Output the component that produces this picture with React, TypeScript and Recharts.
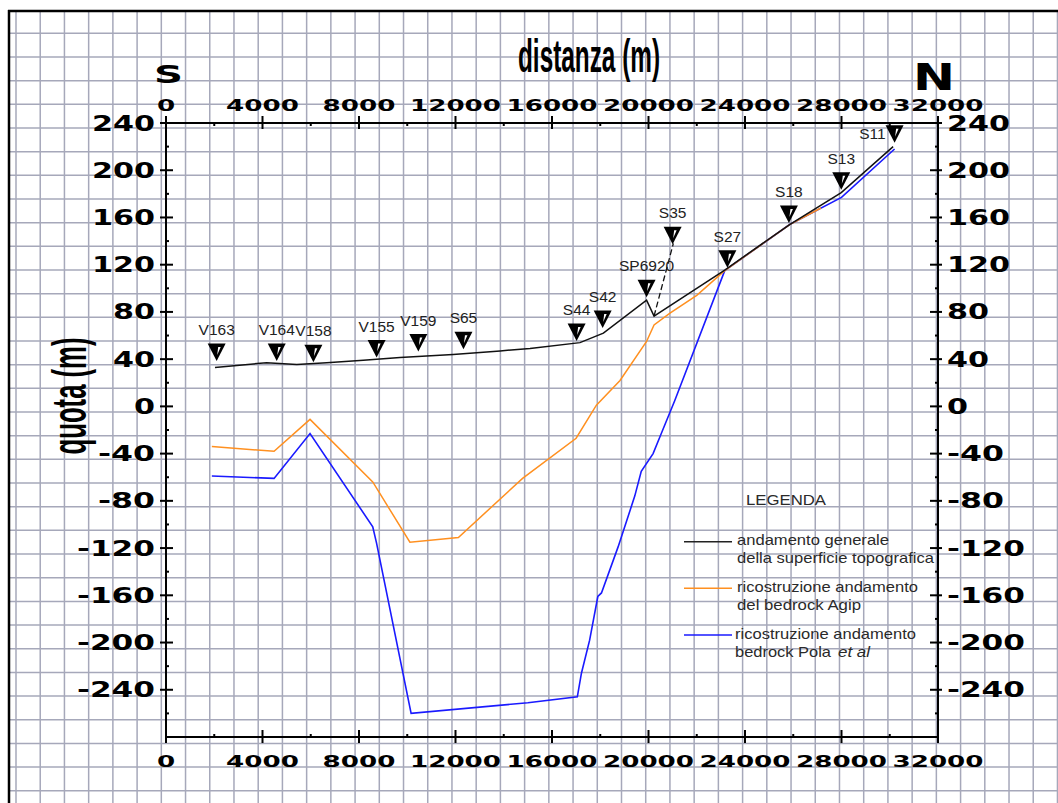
import React from "react";
import { ComposedChart, Line, Scatter, XAxis, YAxis } from "recharts";

// distanza (m) — major ticks every 4000, minor every 2000
const xTicks = [
  0, 2000, 4000, 6000, 8000, 10000, 12000, 14000, 16000, 18000, 20000, 22000,
  24000, 26000, 28000, 30000, 32000,
];
// quota (m) — major every 40, minor every 20
const yTicks = [
  -280, -260, -240, -220, -200, -180, -160, -140, -120, -100, -80, -60, -40,
  -20, 0, 20, 40, 60, 80, 100, 120, 140, 160, 180, 200, 220, 240,
];

// andamento generale della superficie topografica
const topografia = [
  { x: 2030, y: 33 },
  { x: 4170, y: 37 },
  { x: 5420, y: 35.5 },
  { x: 6660, y: 37 },
  { x: 8180, y: 39 },
  { x: 9700, y: 41.5 },
  { x: 11900, y: 44 },
  { x: 13850, y: 47 },
  { x: 15090, y: 49 },
  { x: 17160, y: 54 },
  { x: 18130, y: 62 },
  { x: 19920, y: 90 },
  { x: 20230, y: 76.5 },
  { x: 23160, y: 115.5 },
  { x: 25850, y: 154 },
  { x: 27990, y: 181 },
  { x: 30140, y: 220 },
];

// raccordo tratteggiato verso S35
const raccordoS35 = [
  { x: 20230, y: 76.5 },
  { x: 21030, y: 138 },
];

// ricostruzione andamento del bedrock Agip
const bedrockAgip = [
  { x: 1900, y: -34 },
  { x: 4480, y: -38 },
  { x: 5970, y: -11 },
  { x: 8570, y: -64 },
  { x: 10110, y: -115 },
  { x: 12120, y: -111 },
  { x: 14780, y: -61 },
  { x: 17000, y: -27 },
  { x: 17840, y: 1 },
  { x: 18820, y: 22 },
  { x: 19920, y: 55 },
  { x: 20230, y: 69 },
  { x: 20890, y: 79 },
  { x: 22000, y: 94 },
  { x: 23160, y: 115 },
  { x: 25850, y: 154 },
  { x: 27150, y: 168 },
];

// ricostruzione andamento bedrock Pola et al
const bedrockPola = [
  { x: 1900, y: -59 },
  { x: 4480, y: -61 },
  { x: 5970, y: -23 },
  { x: 8570, y: -102 },
  { x: 8730, y: -116 },
  { x: 10160, y: -260 },
  { x: 15000, y: -251 },
  { x: 17050, y: -246 },
  { x: 17220, y: -226 },
  { x: 17560, y: -198 },
  { x: 17900, y: -161 },
  { x: 18050, y: -158 },
  { x: 18740, y: -119 },
  { x: 19430, y: -76 },
  { x: 19700, y: -55 },
  { x: 20190, y: -40 },
  { x: 20530, y: -23 },
  { x: 21090, y: 5 },
  { x: 23160, y: 115 },
  { x: 25850, y: 154 },
  { x: 28000, y: 177 },
  { x: 30200, y: 218 },
];

// sondaggi / pozzi
const pozzi = [
  { x: 2100, y: 46, name: "V163" },
  { x: 4590, y: 46, name: "V164" },
  { x: 6110, y: 45, name: "V158" },
  { x: 8730, y: 49, name: "V155" },
  { x: 10460, y: 54, name: "V159" },
  { x: 12330, y: 56, name: "S65" },
  { x: 17020, y: 63, name: "S44" },
  { x: 18100, y: 74, name: "S42" },
  { x: 19920, y: 100, name: "SP6920" },
  { x: 21000, y: 145, name: "S35" },
  { x: 23270, y: 125, name: "S27" },
  { x: 25820, y: 163, name: "S18" },
  { x: 27990, y: 191, name: "S13" },
  { x: 30200, y: 231, name: "S11" },
];

const W = 1058;
const H = 803;
const TICK_FONT = "'DejaVu Sans', Verdana, sans-serif";
const LABEL_FONT = "'Liberation Sans', Arial, sans-serif";

const labelWidth = (s: string, digit: number, minus: number) =>
  s.split("").reduce((a, c) => a + (c === "-" ? minus : digit), 0);

function makeXTick(side: "top" | "bottom") {
  return (props: any) => {
    const { x, y, payload } = props;
    const v = payload.value;
    const major = v % 4000 === 0;
    if (!major) {
      return side === "top" ? (
        <line x1={x} x2={x} y1={y} y2={y + 3} stroke="#000" strokeWidth={2} />
      ) : (
        <line x1={x} x2={x} y1={y - 3} y2={y} stroke="#000" strokeWidth={2} />
      );
    }
    const s = String(v);
    const cy = side === "top" ? y - 18 : y + 24;
    return (
      <g>
        <line x1={x} x2={x} y1={y - 7} y2={y + 6} stroke="#000" strokeWidth={2} />
        <text
          x={x}
          y={cy + 6}
          textAnchor="middle"
          fontFamily={TICK_FONT}
          fontWeight="bold"
          fontSize={16.5}
          fill="#000"
          textLength={labelWidth(s, 18.2, 12)}
          lengthAdjust="spacingAndGlyphs"
        >
          {s}
        </text>
      </g>
    );
  };
}

function makeYTick(side: "left" | "right") {
  return (props: any) => {
    const { x, y, payload } = props;
    const v = payload.value;
    const major = v % 40 === 0 && v !== -280;
    if (!major) {
      return side === "left" ? (
        <line x1={x} x2={x + 3} y1={y} y2={y} stroke="#000" strokeWidth={2} />
      ) : (
        <line x1={x - 3} x2={x} y1={y} y2={y} stroke="#000" strokeWidth={2} />
      );
    }
    const s = String(v);
    return (
      <g>
        {side === "left" ? (
          <line x1={x - 6} x2={x + 7} y1={y} y2={y} stroke="#000" strokeWidth={2} />
        ) : (
          <line x1={x - 8} x2={x + 4} y1={y} y2={y} stroke="#000" strokeWidth={2} />
        )}
        <text
          x={side === "left" ? x - 11 : x + 9}
          y={y + 7.5}
          textAnchor={side === "left" ? "end" : "start"}
          fontFamily={TICK_FONT}
          fontWeight="bold"
          fontSize={20.5}
          fill="#000"
          textLength={labelWidth(s, 21, 15)}
          lengthAdjust="spacingAndGlyphs"
        >
          {s}
        </text>
      </g>
    );
  };
}

const PozzoMarker = (props: any) => {
  const { cx, cy, payload } = props;
  if (cx == null || cy == null) return null;
  const leftLabel = payload.name === "S11";
  return (
    <g>
      <polygon
        points={`${cx - 9},${cy - 8.5} ${cx + 9},${cy - 8.5} ${cx},${cy + 9}`}
        fill="#000"
      />
      <polygon
        points={`${cx + 1.5},${cy - 5} ${cx + 4},${cy - 5} ${cx + 0.5},${cy + 3}`}
        fill="#fff"
      />
      <text
        x={leftLabel ? cx - 9 : cx}
        y={leftLabel ? cy + 5 : cy - 17}
        textAnchor={leftLabel ? "end" : "middle"}
        fontFamily={LABEL_FONT}
        fontSize={15.5}
        fill="#222"
      >
        {payload.name}
      </text>
    </g>
  );
};

function GraphPaper() {
  const vx: number[] = [];
  for (let i = 0; 16 + i * 24.22 < W; i++) vx.push(16 + i * 24.22);
  const hy: number[] = [];
  for (let j = 0; 33.3 + j * 23.67 < H; j++) hy.push(33.3 + j * 23.67);
  return (
    <svg width={W} height={H} style={{ position: "absolute", left: 0, top: 0 }}>
      <rect x={0} y={0} width={W} height={H} fill="#fff" />
      {vx.map((x, i) => (
        <line
          key={"v" + i}
          x1={x}
          x2={x}
          y1={11}
          y2={H}
          stroke="#a6a8ba"
          strokeWidth={1.5}
        />
      ))}
      {hy.map((y, j) => (
        <line
          key={"h" + j}
          x1={9}
          x2={W}
          y1={y}
          y2={y}
          stroke="#a6a8ba"
          strokeWidth={1.5}
        />
      ))}
      <line x1={9} x2={9} y1={10} y2={H} stroke="#000" strokeWidth={2.5} />
      <line x1={8} x2={W} y1={11} y2={11} stroke="#000" strokeWidth={2.5} />
    </svg>
  );
}

function Annotations() {
  const legendText = {
    fontFamily: LABEL_FONT,
    fontSize: 14.5,
    fill: "#2a2a2a",
    lengthAdjust: "spacingAndGlyphs" as const,
  };
  return (
    <svg
      width={W}
      height={H}
      style={{ position: "absolute", left: 0, top: 0, pointerEvents: "none" }}
    >
      <text
        x={518}
        y={72}
        fontFamily="'Liberation Sans Narrow', 'Liberation Sans', Arial, sans-serif"
        fontWeight="bold"
        fontSize={46}
        textLength={142}
        lengthAdjust="spacingAndGlyphs"
        fill="#000"
      >
        distanza (m)
      </text>
      <text
        x={86}
        y={396}
        transform="rotate(-90, 86, 396)"
        textAnchor="middle"
        fontFamily="'Liberation Sans Narrow', 'Liberation Sans', Arial, sans-serif"
        fontWeight="bold"
        fontSize={48}
        textLength={117}
        lengthAdjust="spacingAndGlyphs"
        fill="#000"
      >
        quota (m)
      </text>
      <text
        x={154}
        y={83}
        fontFamily={TICK_FONT}
        fontWeight="bold"
        fontSize={25}
        textLength={29}
        lengthAdjust="spacingAndGlyphs"
        fill="#000"
      >
        S
      </text>
      <text
        x={913}
        y={90}
        fontFamily={TICK_FONT}
        fontWeight="bold"
        fontSize={37}
        textLength={42}
        lengthAdjust="spacingAndGlyphs"
        fill="#000"
      >
        N
      </text>

      <text x={746} y={505} textLength={80} {...legendText}>
        LEGENDA
      </text>
      <line x1={684} x2={732} y1={541.7} y2={541.7} stroke="#222" strokeWidth={1.5} />
      <text x={737} y={545} textLength={152} {...legendText}>
        andamento generale
      </text>
      <text x={737} y={563} textLength={197} {...legendText}>
        della superficie topografica
      </text>
      <line x1={684} x2={732} y1={588.3} y2={588.3} stroke="#ff9020" strokeWidth={1.5} />
      <text x={737} y={592} textLength={181} {...legendText}>
        ricostruzione andamento
      </text>
      <text x={737} y={610} textLength={124} {...legendText}>
        del bedrock Agip
      </text>
      <line x1={684} x2={732} y1={635} y2={635} stroke="#1a1aff" strokeWidth={1.5} />
      <text x={735} y={639} textLength={181} {...legendText}>
        ricostruzione andamento
      </text>
      <text x={735} y={657} textLength={96} {...legendText}>
        bedrock Pola
      </text>
      <text x={838} y={657} textLength={32} fontStyle="italic" {...legendText}>
        et al
      </text>
    </svg>
  );
}

export default function App() {
  return (
    <div
      style={{
        position: "absolute",
        left: 0,
        top: 0,
        width: W,
        height: H,
        overflow: "hidden",
        background: "#fff",
      }}
    >
      <GraphPaper />
      <div style={{ position: "absolute", left: 0, top: 0 }}>
        <ComposedChart
          width={W}
          height={H}
          margin={{ top: 93, right: 60, bottom: 36, left: 106 }}
        >
          <XAxis
            xAxisId="bottom"
            dataKey="x"
            type="number"
            orientation="bottom"
            domain={[0, 32000]}
            ticks={xTicks}
            interval={0}
            height={30}
            tickSize={0}
            tickMargin={0}
            tickLine={false}
            axisLine={{ stroke: "#000", strokeWidth: 2 }}
            tick={makeXTick("bottom")}
            allowDataOverflow
          />
          <XAxis
            xAxisId="top"
            dataKey="x"
            type="number"
            orientation="top"
            domain={[0, 32000]}
            ticks={xTicks}
            interval={0}
            height={30}
            tickSize={0}
            tickMargin={0}
            tickLine={false}
            axisLine={{ stroke: "#000", strokeWidth: 2 }}
            tick={makeXTick("top")}
            allowDataOverflow
          />
          <YAxis
            yAxisId="left"
            type="number"
            orientation="left"
            domain={[-280, 240]}
            ticks={yTicks}
            interval={0}
            width={60}
            tickSize={0}
            tickMargin={0}
            tickLine={false}
            axisLine={{ stroke: "#000", strokeWidth: 2 }}
            tick={makeYTick("left")}
            allowDataOverflow
          />
          <YAxis
            yAxisId="right"
            type="number"
            orientation="right"
            domain={[-280, 240]}
            ticks={yTicks}
            interval={0}
            width={60}
            tickSize={0}
            tickMargin={0}
            tickLine={false}
            axisLine={{ stroke: "#000", strokeWidth: 2 }}
            tick={makeYTick("right")}
            allowDataOverflow
          />
          <Line
            xAxisId="bottom"
            yAxisId="left"
            data={bedrockPola}
            dataKey="y"
            type="linear"
            stroke="#1a1aff"
            strokeWidth={1.6}
            dot={false}
            isAnimationActive={false}
          />
          <Line
            xAxisId="bottom"
            yAxisId="left"
            data={bedrockAgip}
            dataKey="y"
            type="linear"
            stroke="#ff9020"
            strokeWidth={1.5}
            dot={false}
            isAnimationActive={false}
          />
          <Line
            xAxisId="bottom"
            yAxisId="left"
            data={topografia}
            dataKey="y"
            type="linear"
            stroke="#111"
            strokeWidth={1.5}
            dot={false}
            isAnimationActive={false}
          />
          <Line
            xAxisId="bottom"
            yAxisId="left"
            data={raccordoS35}
            dataKey="y"
            type="linear"
            stroke="#111"
            strokeWidth={1.3}
            strokeDasharray="6 3"
            dot={false}
            isAnimationActive={false}
          />
          <Scatter
            xAxisId="bottom"
            yAxisId="left"
            data={pozzi}
            dataKey="y"
            shape={PozzoMarker}
            isAnimationActive={false}
          />
        </ComposedChart>
      </div>
      <Annotations />
    </div>
  );
}
